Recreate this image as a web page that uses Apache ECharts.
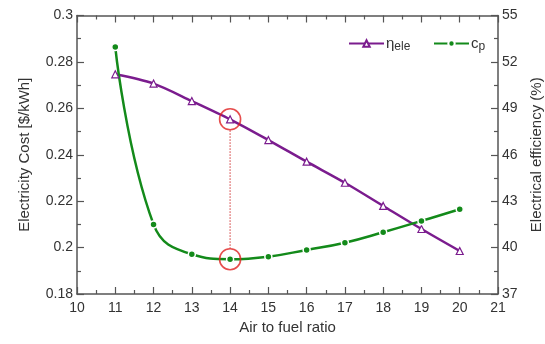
<!DOCTYPE html>
<html><head><meta charset="utf-8">
<script src="https://cdn.jsdelivr.net/npm/echarts@6/dist/echarts.min.js"></script>
<style>html,body{margin:0;padding:0;background:#fff}#c{width:545px;height:344px}</style>
</head><body><div id="c"></div>
<script>
var afr = [11, 12, 13, 14, 15, 16, 17, 18, 19, 20];
var costCp = [0.2864, 0.2100, 0.1971, 0.1950, 0.1961, 0.1990, 0.2021, 0.2066, 0.2115, 0.2165];
var effEle = [51.2, 50.6, 49.47, 48.29, 46.95, 45.55, 44.19, 42.69, 41.2, 39.78];
var highlightX = 14;
var leftTicks = [0.18, 0.2, 0.22, 0.24, 0.26, 0.28, 0.3];
var rightTicks = [37, 40, 43, 46, 49, 52, 55];

var purple = '#7b1c8e', green = '#138a1a', axisCol = '#555', txt = '#333';
var font = 'Liberation Sans, Arial, sans-serif';
var hi = afr.indexOf(highlightX);

function pairs(xs, ys){ return xs.map(function(x,i){return [x, ys[i]];}); }

var tickCommon = {inside: true, length: 7, lineStyle: {color: axisCol, width: 1.2}};
var minorCommon = {show: true, splitNumber: 2, length: 4, lineStyle: {color: axisCol, width: 1.2}};
var lineCommon = {show: true, onZero: false, lineStyle: {color: axisCol, width: 1.5}};

var chart = echarts.init(document.getElementById('c'), null, {renderer: 'canvas'});
chart.setOption({
  animation: false,
  backgroundColor: '#fff',
  grid: {left: 77, right: 47, top: 15.5, bottom: 50, containLabel: false, outerBoundsMode: 'none'},
  legend: [
    {data: ['eta'], left: 343, top: 31, itemWidth: 35, itemHeight: 8, itemGap: 0,
     formatter: function(){ return '{a|η}{b|ele}'; },
     textStyle: {color: txt, fontFamily: font, padding: [0,0,0,-3],
       rich: {a: {fontSize: 15, fontFamily: font, color: txt}, b: {fontSize: 12, fontFamily: font, color: txt, padding: [7,0,0,0]}}}},
    {data: ['cp'], left: 428, top: 31, itemWidth: 35, itemHeight: 8, itemGap: 0,
     formatter: function(){ return '{a|c}{b|p}'; },
     textStyle: {color: txt, fontFamily: font, padding: [0,0,0,-3],
       rich: {a: {fontSize: 15, fontFamily: font, color: txt}, b: {fontSize: 12, fontFamily: font, color: txt, padding: [7,0,0,0]}}}}
  ],
  xAxis: [
    {type: 'value', min: 10, max: 21, interval: 1, position: 'bottom',
     name: 'Air to fuel ratio', nameLocation: 'middle', nameGap: 25,
     nameTextStyle: {fontSize: 15, fontFamily: font, color: txt},
     axisLine: lineCommon, axisTick: tickCommon, minorTick: minorCommon,
     axisLabel: {fontSize: 14, fontFamily: font, color: txt, margin: 7},
     splitLine: {show: false}},
    {type: 'value', min: 10, max: 21, interval: 1, position: 'top',
     axisLine: lineCommon, axisTick: tickCommon, minorTick: minorCommon,
     axisLabel: {show: false}, splitLine: {show: false}}
  ],
  yAxis: [
    {type: 'value', min: leftTicks[0], max: leftTicks[leftTicks.length-1], interval: 0.02, position: 'left',
     name: 'Electricity Cost [$/kWh]', nameLocation: 'middle', nameGap: 45,
     nameTextStyle: {fontSize: 15, fontFamily: font, color: txt},
     axisLine: lineCommon, axisTick: tickCommon, minorTick: minorCommon,
     axisLabel: {fontSize: 14, fontFamily: font, color: txt, margin: 4,
       formatter: function(v){ return String(+v.toFixed(2)); }},
     splitLine: {show: false}},
    {type: 'value', min: rightTicks[0], max: rightTicks[rightTicks.length-1], interval: 3, position: 'right',
     name: 'Electrical efficiency (%)', nameLocation: 'middle', nameGap: 31, nameRotate: 90,
     nameTextStyle: {fontSize: 15, fontFamily: font, color: txt},
     axisLine: lineCommon, axisTick: tickCommon, minorTick: minorCommon,
     axisLabel: {fontSize: 14, fontFamily: font, color: txt, margin: 4},
     splitLine: {show: false}}
  ],
  series: [
    {name: 'eta', type: 'line', xAxisIndex: 0, yAxisIndex: 1, data: pairs(afr, effEle),
     smooth: 0.3, symbol: 'triangle', symbolSize: 7,
     lineStyle: {color: purple, width: 2.5},
     itemStyle: {color: '#fff', borderColor: purple, borderWidth: 1.2}, z: 3},
    {name: 'cp', type: 'line', xAxisIndex: 0, yAxisIndex: 0, data: pairs(afr, costCp),
     smooth: 0.45, symbol: 'circle', symbolSize: 7,
     lineStyle: {color: green, width: 2.5},
     itemStyle: {color: green, borderColor: '#fff', borderWidth: 1.5}, z: 3},
    {name: 'hiEta', type: 'scatter', xAxisIndex: 0, yAxisIndex: 1, data: [[afr[hi], effEle[hi]]],
     symbol: 'circle', symbolSize: 21, silent: true,
     itemStyle: {color: 'rgba(0,0,0,0)', borderColor: '#e02020', borderWidth: 1.6}, z: 4},
    {name: 'hiCp', type: 'scatter', xAxisIndex: 0, yAxisIndex: 0, data: [[afr[hi], costCp[hi]]],
     symbol: 'circle', symbolSize: 21, silent: true,
     itemStyle: {color: 'rgba(0,0,0,0)', borderColor: '#e02020', borderWidth: 1.6}, z: 4}
  ]
});

var pTop = chart.convertToPixel({xAxisIndex: 0, yAxisIndex: 1}, [afr[hi], effEle[hi]]);
var pBot = chart.convertToPixel({xAxisIndex: 0, yAxisIndex: 0}, [afr[hi], costCp[hi]]);
chart.setOption({
  graphic: [{type: 'line', z: 2,
    shape: {x1: pTop[0], y1: pTop[1] + 11, x2: pBot[0], y2: pBot[1] - 11},
    style: {stroke: '#d03030', lineWidth: 1, lineDash: [1.5, 1.5]}}]
});
</script></body></html>
